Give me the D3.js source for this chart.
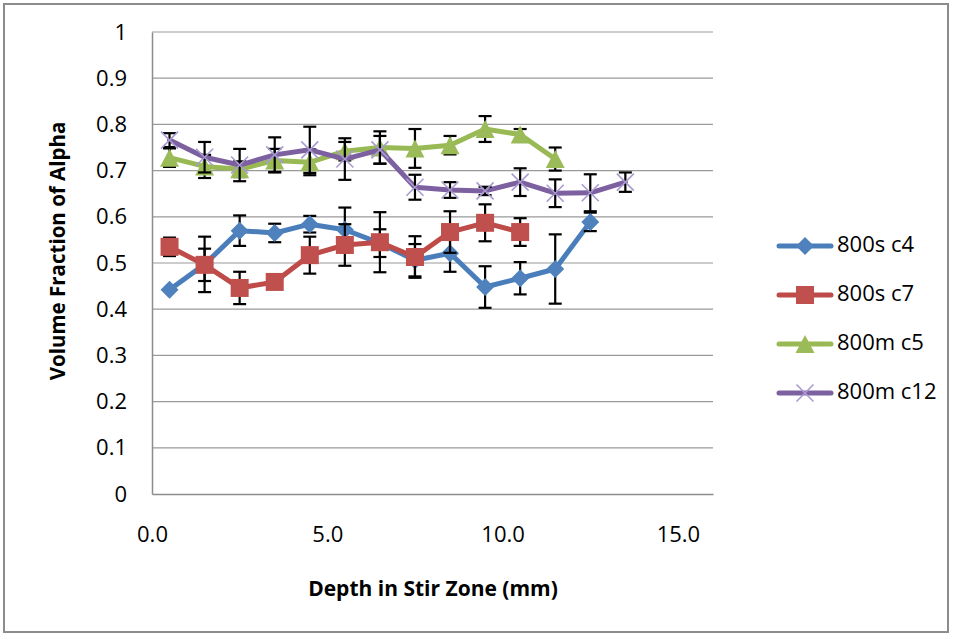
<!DOCTYPE html>
<html>
<head>
<meta charset="utf-8">
<script src="https://cdn.jsdelivr.net/npm/d3@7"></script>
<style>
  html, body { margin: 0; padding: 0; background: #fff; }
  svg { display: block; }
  text { font-family: "Open Sans", "Liberation Sans", sans-serif; fill: #000; }
</style>
</head>
<body>
<svg id="chart" width="960" height="636"></svg>
<script>
// ---- data ----
const depth = [0.5, 1.5, 2.5, 3.5, 4.5, 5.5, 6.5, 7.5, 8.5, 9.5, 10.5, 11.5, 12.5, 13.5];
const seriesNames = ["800s c4", "800s c7", "800m c5", "800m c12"];
const c4 = [0.442, 0.497, 0.570, 0.565, 0.584, 0.572, 0.543, 0.506, 0.521, 0.448, 0.467, 0.487, 0.589];
const c4Err = [0, 0.06, 0.033, 0.02, 0.018, 0.048, 0.03, 0.035, 0.04, 0.045, 0.035, 0.075, 0.02];
const c7 = [0.535, 0.496, 0.446, 0.459, 0.517, 0.539, 0.545, 0.513, 0.567, 0.587, 0.567];
const c7Err = [0.02, 0.035, 0.035, 0.005, 0.04, 0.045, 0.065, 0.045, 0.045, 0.04, 0.03];
const c5 = [0.728, 0.709, 0.703, 0.722, 0.718, 0.742, 0.750, 0.748, 0.755, 0.790, 0.778, 0.725];
const c5Err = [0.02, 0.025, 0.017, 0.025, 0.028, 0.02, 0.035, 0.042, 0.02, 0.028, 0.012, 0.025];
const c12 = [0.766, 0.729, 0.712, 0.734, 0.745, 0.725, 0.745, 0.664, 0.658, 0.656, 0.675, 0.651, 0.652, 0.675];
const c12Err = [0.015, 0.033, 0.035, 0.038, 0.05, 0.045, 0.03, 0.027, 0.017, 0.009, 0.03, 0.03, 0.04, 0.021];
const xTicks = [0, 5, 10, 15];
const yTicks = [0, 0.1, 0.2, 0.3, 0.4, 0.5, 0.6, 0.7, 0.8, 0.9, 1];
const xTitle = "Depth in Stir Zone (mm)";
const yTitle = "Volume Fraction of Alpha";

// ---- layout ----
const svg = d3.select("#chart");
const plot = { left: 152, right: 713, top: 32, bottom: 494 };
const x = d3.scaleLinear().domain([0, 16]).range([plot.left, plot.right]);
const y = d3.scaleLinear().domain([0, 1]).range([plot.bottom, plot.top]);

// outer frame
svg.append("rect").attr("x", 4).attr("y", 4).attr("width", 944).attr("height", 628)
  .attr("fill", "#fff").attr("stroke", "#8c8c8c").attr("stroke-width", 2);

// gridlines
svg.append("g").selectAll("line").data(yTicks.filter(d => d > 0)).join("line")
  .attr("x1", plot.left).attr("x2", plot.right)
  .attr("y1", d => y(d)).attr("y2", d => y(d))
  .attr("stroke", "#9a9a9a").attr("stroke-width", 1.2);

// y axis
const yAxis = svg.append("g").attr("transform", `translate(${plot.left},0)`)
  .call(d3.axisLeft(y).tickValues(yTicks).tickFormat(d => d === 0 ? "0" : d === 1 ? "1" : d3.format(".1f")(d)).tickSize(0).tickPadding(25));
yAxis.select(".domain").attr("stroke", "#8c8c8c").attr("stroke-width", 1.5);
yAxis.selectAll("text").attr("font-size", 22).attr("font-family", "Open Sans").attr("fill", "#000");

// x axis
const xAxis = svg.append("g").attr("transform", `translate(0,${plot.bottom})`)
  .call(d3.axisBottom(x).tickValues(xTicks).tickFormat(d3.format(".1f")).tickSize(0).tickPadding(32));
xAxis.select(".domain").attr("stroke", "#8c8c8c").attr("stroke-width", 1.5);
xAxis.selectAll("text").attr("font-size", 22).attr("font-family", "Open Sans").attr("fill", "#000");

// titles
svg.append("text").attr("x", 433).attr("y", 590).attr("text-anchor", "middle")
  .attr("dominant-baseline", "middle").attr("font-size", 21).attr("font-weight", "bold").text(xTitle);
svg.append("text").attr("transform", "translate(60,251) rotate(-90)").attr("text-anchor", "middle")
  .attr("dominant-baseline", "middle").attr("font-size", 20.5).attr("font-weight", "bold").text(yTitle);

// ---- series ----
const styles = [
  { line: "#4A7EBB", fill: "#4F81BD", shape: "diamond" },
  { line: "#BE4B48", fill: "#C0504D", shape: "square" },
  { line: "#98B954", fill: "#9BBB59", shape: "triangle" },
  { line: "#7D60A0", fill: "#A99BD0", shape: "x" }
];
const allValues = [c4, c7, c5, c12];
const allErr = [c4Err, c7Err, c5Err, c12Err];

function drawMarker(g, shape, cx, cy, st) {
  if (shape === "diamond") {
    const r = 9;
    g.append("path").attr("d", `M${cx},${cy - r}L${cx + r},${cy}L${cx},${cy + r}L${cx - r},${cy}Z`).attr("fill", st.fill);
  } else if (shape === "square") {
    const s = 9;
    g.append("rect").attr("x", cx - s).attr("y", cy - s).attr("width", 2 * s).attr("height", 2 * s).attr("fill", st.fill);
  } else if (shape === "triangle") {
    const w = 9.5, h = 9;
    g.append("path").attr("d", `M${cx},${cy - h}L${cx + w},${cy + h}L${cx - w},${cy + h}Z`).attr("fill", st.fill);
  } else {
    const r = 8.5;
    g.append("path").attr("d", `M${cx - r},${cy - r}L${cx + r},${cy + r}M${cx - r},${cy + r}L${cx + r},${cy - r}`)
      .attr("stroke", st.fill).attr("stroke-width", 1.6).attr("fill", "none");
  }
}

const lineGen = d3.line().x(d => x(d.x)).y(d => y(d.v));

allValues.forEach((vals, si) => {
  const st = styles[si];
  const pts = vals.map((v, i) => ({ x: depth[i], v, e: allErr[si][i] }));
  const g = svg.append("g");
  g.append("path").datum(pts).attr("d", lineGen).attr("fill", "none")
    .attr("stroke", st.line).attr("stroke-width", 5).attr("stroke-linejoin", "round").attr("stroke-linecap", "round");
  const eb = g.append("g");
  pts.filter(p => p.e > 0).forEach(p => {
    const cx = x(p.x), y1 = y(p.v + p.e), y2 = y(p.v - p.e);
    eb.append("line").attr("x1", cx).attr("x2", cx).attr("y1", y1).attr("y2", y2).attr("stroke", "#000").attr("stroke-width", 2.2);
    eb.append("line").attr("x1", cx - 6.5).attr("x2", cx + 6.5).attr("y1", y1).attr("y2", y1).attr("stroke", "#000").attr("stroke-width", 2.2);
    eb.append("line").attr("x1", cx - 6.5).attr("x2", cx + 6.5).attr("y1", y2).attr("y2", y2).attr("stroke", "#000").attr("stroke-width", 2.2);
  });
  const mg = g.append("g");
  pts.forEach(p => drawMarker(mg, st.shape, x(p.x), y(p.v), st));
});

// ---- legend ----
const legend = svg.append("g");
const legendY = [246, 295, 344, 393];
seriesNames.forEach((name, i) => {
  const st = styles[i];
  const ly = legendY[i];
  legend.append("line").attr("x1", 779).attr("x2", 831).attr("y1", ly).attr("y2", ly)
    .attr("stroke", st.line).attr("stroke-width", 5).attr("stroke-linecap", "round");
  drawMarker(legend, st.shape, 805, ly, st);
  legend.append("text").attr("x", 837).attr("y", ly).attr("dominant-baseline", "middle")
    .attr("font-size", 22).text(name);
});
</script>
</body>
</html>
